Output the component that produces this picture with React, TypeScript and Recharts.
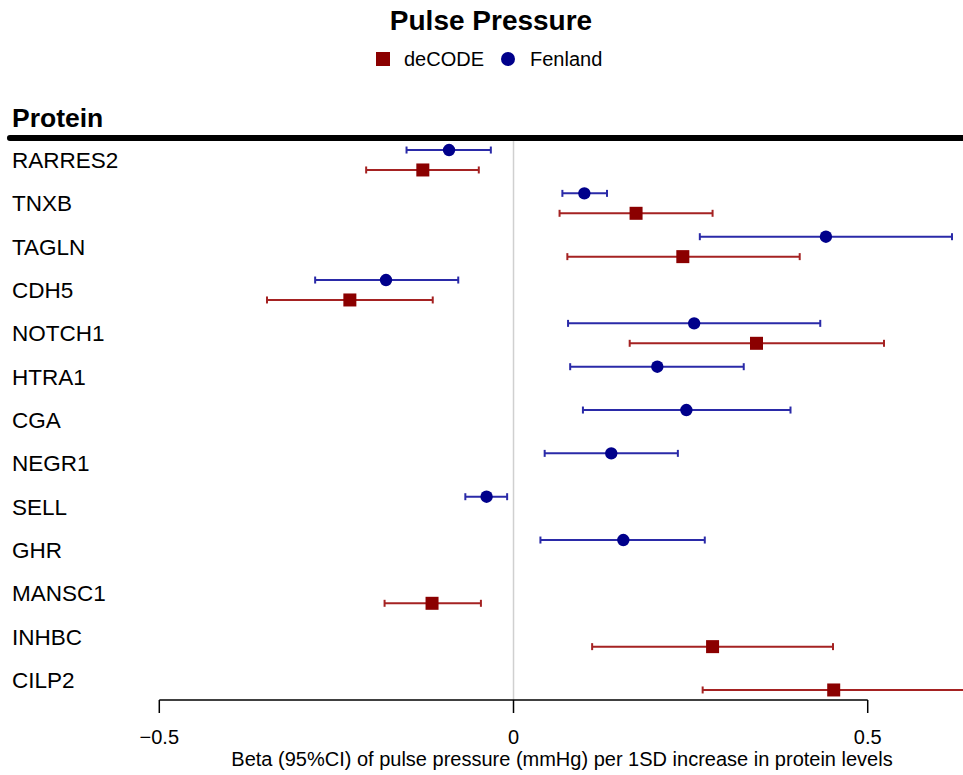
import { ScatterChart, Scatter, XAxis, YAxis, ErrorBar, ReferenceLine } from "recharts";

const proteins = [
  "RARRES2", "TNXB", "TAGLN", "CDH5", "NOTCH1", "HTRA1", "CGA",
  "NEGR1", "SELL", "GHR", "MANSC1", "INHBC", "CILP2",
];

// Fenland estimates and 95% CI (null = not measured)
const fenlandBeta = [-0.091, 0.1, 0.441, -0.18, 0.255, 0.203, 0.244, 0.138, -0.038, 0.155, null, null, null];
const fenlandLow = [-0.151, 0.069, 0.263, -0.28, 0.077, 0.08, 0.098, 0.044, -0.068, 0.038, null, null, null];
const fenlandHigh = [-0.032, 0.132, 0.619, -0.078, 0.433, 0.325, 0.391, 0.232, -0.009, 0.27, null, null, null];

// deCODE estimates and 95% CI
const decodeBeta = [-0.128, 0.173, 0.239, -0.231, 0.343, null, null, null, null, null, -0.115, 0.281, 0.452];
const decodeLow = [-0.208, 0.065, 0.076, -0.348, 0.164, null, null, null, null, null, -0.182, 0.111, 0.267];
const decodeHigh = [-0.049, 0.281, 0.404, -0.114, 0.523, null, null, null, null, null, -0.046, 0.451, 0.64];

const xTicks = [-0.5, 0, 0.5];

const FONT = "'Liberation Sans', Arial, Helvetica, sans-serif";
const BLUE = "#00008b";
const BLUE_LINE = "#2a2aa8";
const RED = "#8b0000";
const RED_LINE = "#a52222";

const X_MIN = -0.7178;
const X_MAX = 0.6345;
const Y_MIN = -0.5077;
const Y_MAX = 12.4615;

function buildSeries(
  beta: (number | null)[],
  low: (number | null)[],
  high: (number | null)[],
  offset: number
) {
  return proteins.flatMap((p, i) => {
    const b = beta[i];
    const lo = low[i];
    const hi = high[i];
    if (b == null || lo == null || hi == null) return [];
    return [{ protein: p, beta: b, row: i + offset, err: [b - lo, hi - b] }];
  });
}

const fenland = buildSeries(fenlandBeta, fenlandLow, fenlandHigh, -0.23);
const decode = buildSeries(decodeBeta, decodeLow, decodeHigh, 0.23);

const fmtTick = (v: number) => (v < 0 ? "\u2212" + Math.abs(v) : String(v));

const ProteinTick = (props: any) => {
  const { y, payload } = props;
  return (
    <text x={12} y={y} dy="0.36em" fontSize={22.5} fontFamily={FONT} fill="#000" textAnchor="start">
      {proteins[payload.value]}
    </text>
  );
};

const DotShape = (props: any) => <circle cx={props.cx} cy={props.cy} r={6.2} fill={BLUE} />;
const SquareShape = (props: any) => (
  <rect x={props.cx - 6.5} y={props.cy - 6.5} width={13} height={13} fill={RED} />
);

export default function App() {
  return (
    <div style={{ position: "absolute", left: 0, top: 0, width: 963, height: 775, background: "#fff" }}>
      <ScatterChart width={963} height={775} margin={{ top: 138, right: 0, bottom: 15, left: 0 }}>
        <XAxis
          type="number"
          dataKey="beta"
          domain={[X_MIN, X_MAX]}
          allowDataOverflow
          ticks={xTicks}
          tickFormatter={fmtTick}
          axisLine={false}
          stroke="#000"
          tickLine={{ stroke: "#000", strokeWidth: 1.5 }}
          tickSize={13}
          tickMargin={17}
          height={60}
          tick={{ fontSize: 20, fill: "#000", fontFamily: FONT }}
        />
        <YAxis
          type="number"
          dataKey="row"
          domain={[Y_MIN, Y_MAX]}
          allowDataOverflow
          reversed
          ticks={proteins.map((_, i) => i)}
          interval={0}
          width={5}
          axisLine={false}
          tickLine={false}
          tick={<ProteinTick />}
        />
        <ReferenceLine x={0} stroke="#d0d0d0" strokeWidth={1.5} />
        <ReferenceLine
          segment={[{ x: -0.5, y: Y_MAX }, { x: 0.5, y: Y_MAX }]}
          stroke="#000"
          strokeWidth={1.5}
        />
        <ReferenceLine
          segment={[{ x: -0.7108, y: Y_MIN }, { x: X_MAX, y: Y_MIN }]}
          stroke="#000"
          strokeWidth={6}
          strokeLinecap="round"
        />
        <Scatter name="deCODE" data={decode} shape={SquareShape} isAnimationActive={false}>
          <ErrorBar dataKey="err" direction="x" width={3.5} stroke={RED_LINE} strokeWidth={2} isAnimationActive={false} />
        </Scatter>
        <Scatter name="Fenland" data={fenland} shape={DotShape} isAnimationActive={false}>
          <ErrorBar dataKey="err" direction="x" width={3.5} stroke={BLUE_LINE} strokeWidth={2} isAnimationActive={false} />
        </Scatter>
      </ScatterChart>
      <svg
        width={963}
        height={775}
        style={{ position: "absolute", left: 0, top: 0, pointerEvents: "none" }}
      >
        <text x={491} y={30} textAnchor="middle" fontSize={28} fontWeight="bold" fontFamily={FONT}>
          Pulse Pressure
        </text>
        <rect x={376} y={52} width={14} height={14} fill={RED} />
        <text x={404} y={66} fontSize={20} fontFamily={FONT}>
          deCODE
        </text>
        <circle cx={508} cy={59} r={7} fill={BLUE} />
        <text x={530} y={66} fontSize={20} fontFamily={FONT}>
          Fenland
        </text>
        <text x={12} y={127} fontSize={26.5} fontWeight="bold" fontFamily={FONT}>
          Protein
        </text>
        <text x={562} y={766} textAnchor="middle" fontSize={20} fontFamily={FONT}>
          Beta (95%CI) of pulse pressure (mmHg) per 1SD increase in protein levels
        </text>
      </svg>
    </div>
  );
}
